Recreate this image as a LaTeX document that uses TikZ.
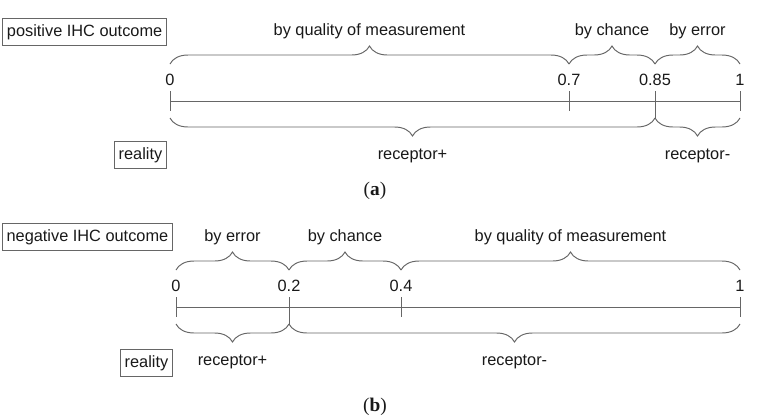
\documentclass[tikz,border=0pt]{standalone}
\usepackage{fontspec}
\setmainfont{Liberation Sans}
\newfontfamily\capfont{Liberation Serif}
\usetikzlibrary{decorations.pathreplacing}

\begin{document}
\begin{tikzpicture}[x=0.02cm, y=0.02cm, node distance=0.42cm,
  font=\fontsize{9.3}{11}\selectfont, text=black!90,
  box/.style={draw=black!60, line width=0.6pt, inner xsep=2.4pt, minimum height=0.46cm, anchor=east},
  axisline/.style={draw=black!60, line width=0.55pt},
  braceup/.style={axisline, decorate, decoration={brace, amplitude=0.36cm, raise=0.74cm}},
  bracedown/.style={axisline, decorate, decoration={brace, mirror, amplitude=0.36cm, raise=0.34cm}},
  uplabel/.style={midway, yshift=1.4cm},
  downlabel/.style={midway, yshift=-1.1cm},
  caption/.style={font=\capfont\fontsize{11}{13}\selectfont}]
\useasboundingbox (0,0) rectangle (757,-416);

% (a) positive outcome
\node  (pos)[box]  at (167,-32)  {positive IHC outcome};
\node  (reala)[box]  at (167,-155)  {reality};
\coordinate (a0)   at (170,-101);
\coordinate (a07)  at (569,-101);
\coordinate (a085) at (655,-101);
\coordinate (a1)   at (740,-101);
\node  (la0)   [  above  of = a0]   {0};
\node  (la07)  [  above  of = a07]  {0.7};
\node  (la085) [  above  of = a085] {0.85};
\node  (la1)   [  above  of = a1]   {1};
\draw[axisline] (a0) -- (a1);
\draw[axisline] ([yshift=0.2cm]a0) -- ([yshift=-0.2cm]a0);
\draw[axisline] ([yshift=0.2cm]a07) -- ([yshift=-0.2cm]a07);
\draw[axisline] ([yshift=0.2cm]a085) -- ([yshift=-0.34cm]a085);
\draw[axisline] ([yshift=0.2cm]a1) -- ([yshift=-0.2cm]a1);
\draw[braceup] (a0) -- (a07) node (qa)[uplabel] {by quality of measurement};
\draw[braceup] (a07) -- (a085) node (ca)[uplabel] {by chance};
\draw[braceup] (a085) -- (a1) node (ea)[uplabel] {by error};
\draw[bracedown] (a0) -- (a085) node (rpa)[downlabel] {receptor+};
\draw[bracedown] (a085) -- (a1) node (rma)[downlabel] {receptor-};
\node  (capa)[caption]  at (375,-191)  {(\textbf{a})};

% (b) negative outcome
\node  (neg)[box]  at (173,-237)  {negative IHC outcome};
\node  (realb)[box]  at (173,-363)  {reality};
\coordinate (b0)  at (176,-307);
\coordinate (b02) at (289,-307);
\coordinate (b04) at (401,-307);
\coordinate (b1)  at (740,-307);
\node  (lb0)  [  above  of = b0]  {0};
\node  (lb02) [  above  of = b02] {0.2};
\node  (lb04) [  above  of = b04] {0.4};
\node  (lb1)  [  above  of = b1]  {1};
\draw[axisline] (b0) -- (b1);
\draw[axisline] ([yshift=0.2cm]b0) -- ([yshift=-0.2cm]b0);
\draw[axisline] ([yshift=0.2cm]b02) -- ([yshift=-0.34cm]b02);
\draw[axisline] ([yshift=0.2cm]b04) -- ([yshift=-0.2cm]b04);
\draw[axisline] ([yshift=0.2cm]b1) -- ([yshift=-0.2cm]b1);
\draw[braceup] (b0) -- (b02) node (eb)[uplabel] {by error};
\draw[braceup] (b02) -- (b04) node (cb)[uplabel] {by chance};
\draw[braceup] (b04) -- (b1) node (qb)[uplabel] {by quality of measurement};
\draw[bracedown] (b0) -- (b02) node (rpb)[downlabel] {receptor+};
\draw[bracedown] (b02) -- (b1) node (rmb)[downlabel] {receptor-};
\node  (capb)[caption]  at (375,-407)  {(\textbf{b})};
\end{tikzpicture}
\end{document}
